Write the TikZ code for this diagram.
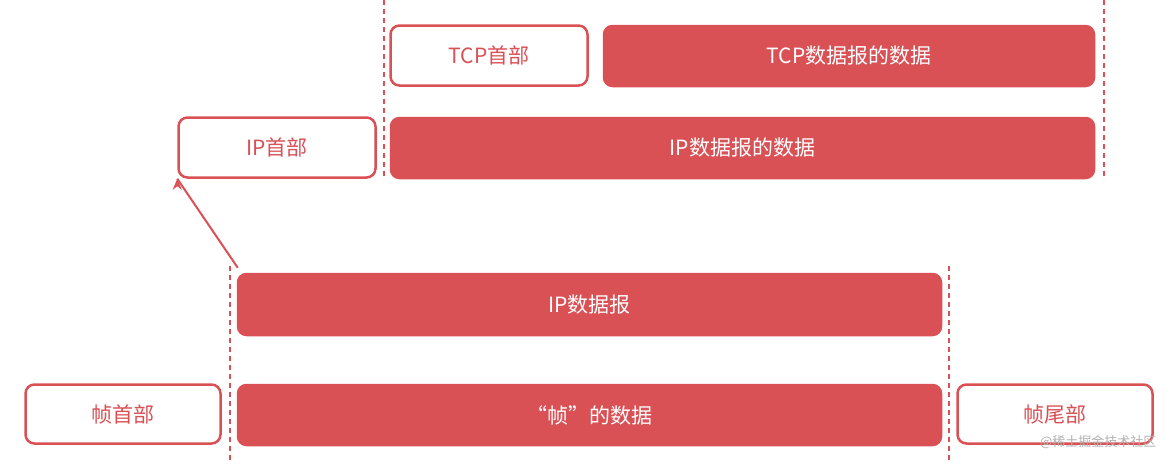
\documentclass[tikz,border=0pt]{standalone}
\usepackage{fontspec}
\setmainfont{Noto Sans CJK SC}
\usetikzlibrary{arrows.meta}
\definecolor{rd}{HTML}{D95055}
\tikzset{
  fbox/.style={draw=rd,fill=rd,line width=1.5pt,rounded corners=9pt,text=white,font=\fontsize{21}{24}\selectfont},
  obox/.style={draw=rd,fill=white,line width=2.5pt,rounded corners=9pt,text=rd,font=\fontsize{21}{24}\selectfont},
  dl/.style={draw=rd,line width=1.2pt,dash pattern=on 5pt off 4pt},
  ar/.style={draw=rd,line width=2pt,-{Stealth[length=11pt,width=9pt]}}
}
\begin{document}
\begin{tikzpicture}[x=1pt,y=-1pt]
\useasboundingbox (0,0) rectangle (1170,466);
\node[obox,minimum width=197pt,minimum height=60pt] (tcph) at (489,55.5) {TCP首部};
\node[fbox,minimum width=491pt,minimum height=61pt] (tcpd) at (849,56) {TCP数据报的数据};
\node[obox,minimum width=197pt,minimum height=60pt] (iph) at (277,147.5) {IP首部};
\node[fbox,minimum width=704pt,minimum height=61pt] (ipd) at (742.5,148) {IP数据报的数据};
\node[fbox,minimum width=704pt,minimum height=62pt] (ip) at (589.5,304.5) {IP数据报};
\node[obox,minimum width=195pt,minimum height=59pt] (fh) at (123,414) {帧首部};
\node[fbox,minimum width=704pt,minimum height=61pt] (fd) at (589.5,415) {“帧”的数据};
\node[obox,minimum width=195pt,minimum height=59pt] (ft) at (1055,414) {帧尾部};
\coordinate (a1) at (384,0); \coordinate (a2) at (384,180);
\coordinate (b1) at (1104,0); \coordinate (b2) at (1104,180);
\coordinate (c1) at (230,266); \coordinate (c2) at (230,460);
\coordinate (d1) at (949,266); \coordinate (d2) at (949,460);
\draw[dl] (a1) -- (a2);
\draw[dl] (b1) -- (b2);
\draw[dl] (c1) -- (c2);
\draw[dl] (d1) -- (d2);
\draw[ar] (ip.north west) ++(1,-5) -- (iph.south west) ++(0,0);
\coordinate (p1) at (238,268); \coordinate (p2) at (188,190);
\coordinate (q1) at (942,273); \coordinate (q2) at (1093,183);
\node[text=gray!60,font=\fontsize{13}{14}\selectfont,anchor=south east] (wm) at (1160,452) {@稀土掘金技术社区};
\end{tikzpicture}
\end{document}
